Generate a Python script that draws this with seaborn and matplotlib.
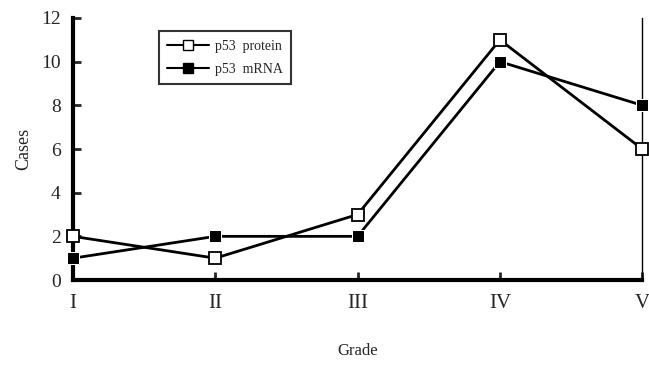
import seaborn as sns
import pandas as pd
from matplotlib import pyplot as plt
from matplotlib.lines import Line2D

sns.set_style("white")
plt.rcParams['font.family'] = ['Liberation Serif', 'DejaVu Serif']

grades = ["I", "II", "III", "IV", "V"]
protein = [2, 1, 3, 11, 6]
mrna = [1, 2, 2, 10, 8]

df = pd.DataFrame({
    "pos": list(range(5)) * 2,
    "cases": protein + mrna,
    "series": ["p53 protein"] * 5 + ["p53 mRNA"] * 5,
})

fig = plt.figure(figsize=(6.49, 3.67), dpi=100)
ax = fig.add_axes([0.1125, 0.237, 0.877, 0.714])

sns.lineplot(data=df, x="pos", y="cases", hue="series", style="series",
             palette=["black", "black"], dashes=False,
             markers={"p53 protein": "s", "p53 mRNA": "s"},
             linewidth=2, markersize=8, ax=ax, legend=False)

# hollow markers for protein
lines = ax.get_lines()
lines[0].set_markerfacecolor("white")
lines[0].set_markeredgecolor("black")
lines[0].set_markeredgewidth(1.3)
lines[1].set_markerfacecolor("black")
for ln in lines:
    ln.set_clip_on(False)
    ln.set_zorder(5)

ax.set_xlim(0, 4)
ax.set_ylim(0, 12)
ax.set_xticks(range(5))
ax.set_xticklabels(grades, fontsize=15)
ax.set_yticks(range(0, 13, 2))
ax.tick_params(axis="y", left=True, labelsize=14, direction="in",
               length=6, width=2, pad=9)
ax.tick_params(axis="x", bottom=True, direction="in", length=6, width=2, pad=10)

ax.spines["top"].set_visible(False)
ax.spines["left"].set_linewidth(3)
ax.spines["bottom"].set_linewidth(3)
ax.spines["right"].set_linewidth(1)
for s in ["left", "bottom", "right"]:
    ax.spines[s].set_color("black")

ax.set_xlabel("Grade", fontsize=12, labelpad=22)
ax.set_ylabel("Cases", fontsize=13, labelpad=6)

handles = [
    Line2D([], [], color="black", lw=1.5, marker="s", markersize=7,
           markerfacecolor="white", markeredgecolor="black"),
    Line2D([], [], color="black", lw=1.5, marker="s", markersize=7,
           markerfacecolor="black"),
]
leg = ax.legend(handles, ["p53  protein", "p53  mRNA"], loc="upper left",
                bbox_to_anchor=(0.139, 0.975), fontsize=10, frameon=True,
                fancybox=False, handlelength=3, handletextpad=0.4,
                borderpad=0.6, labelspacing=0.7)
leg.get_frame().set_edgecolor("black")
leg.get_frame().set_linewidth(1.5)

fig.savefig("out.png", dpi=100)
